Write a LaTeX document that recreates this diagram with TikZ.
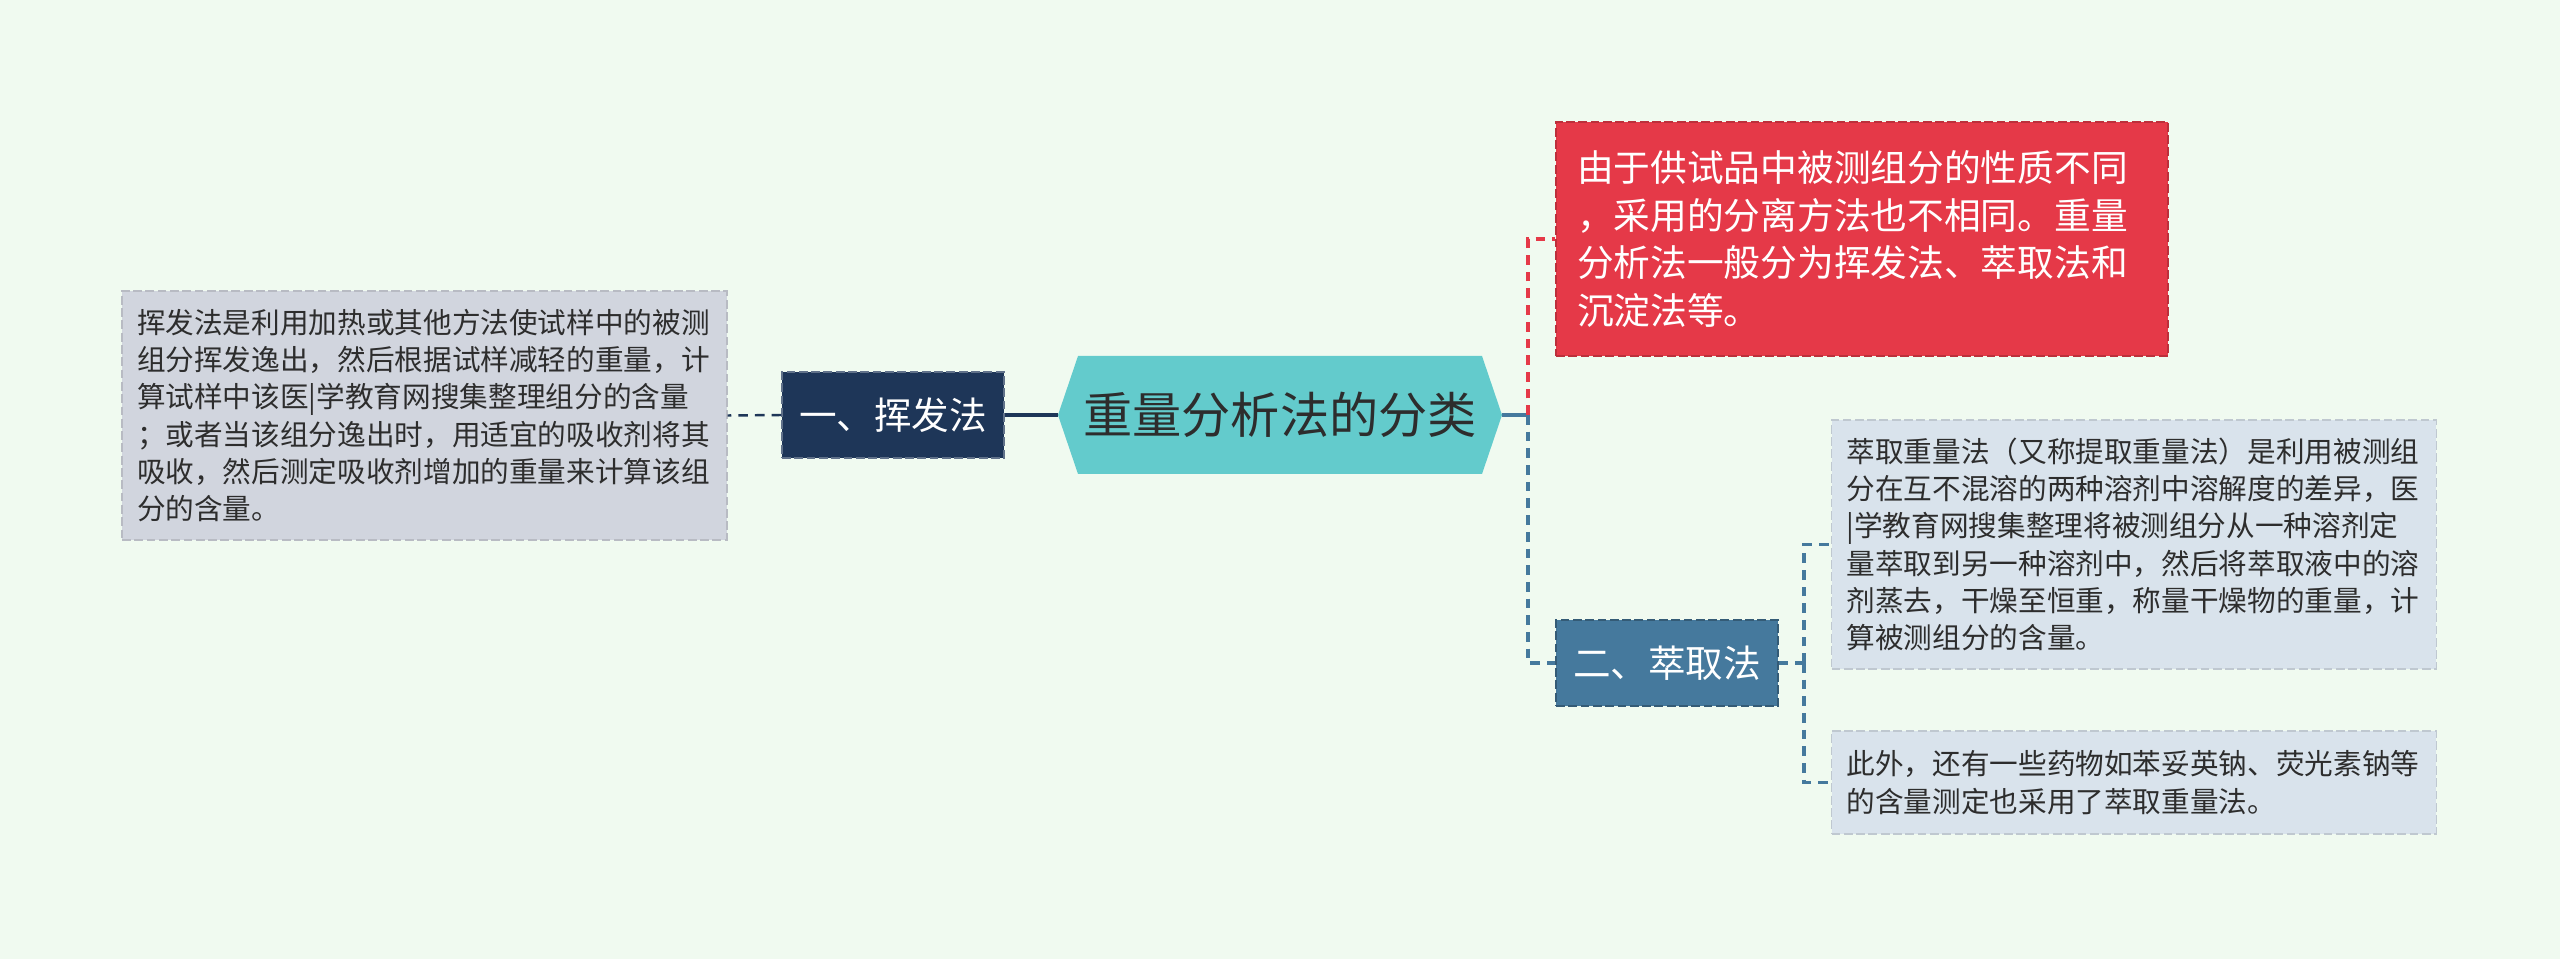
\documentclass[tikz,border=0pt]{standalone}
\usepackage{fontspec}
\setmainfont{Noto Sans CJK SC}
\usepackage{tikz}
\usetikzlibrary{positioning, arrows.meta, calc}
\definecolor{PageBg}{RGB}{240,250,240}
\definecolor{RootTeal}{RGB}{99,203,204}
\definecolor{NavyTopic}{RGB}{30,54,88}
\definecolor{RedTopic}{RGB}{229,57,72}
\definecolor{SteelTopic}{RGB}{69,121,157}
\definecolor{GrayNote}{RGB}{209,213,222}
\definecolor{BlueNote}{RGB}{217,227,236}
\definecolor{InkGray}{RGB}{45,45,45}
\tikzset{
  boxline/.style={dash pattern=on 5pt off 2pt, line width=0.8pt},
  note/.style={boxline, align=left, inner ysep=0pt, inner xsep=0.3cm, text width=11.5cm,
    text=InkGray, font=\fontsize{16.3}{21.2}\selectfont},
  graynote/.style={note, draw=GrayNote!88!black, fill=GrayNote},
  bluenote/.style={note, draw=BlueNote!88!black, fill=BlueNote, minimum width=12.08cm},
  rednote/.style={boxline, draw=RedTopic!82!black, fill=RedTopic, text=white, align=left,
    inner ysep=0pt, inner xsep=0.42cm, text width=11.4cm, minimum height=4.68cm,
    font=\fontsize{20.9}{27.2}\selectfont},
  topic/.style={boxline, minimum width=4.44cm, minimum height=1.72cm, inner sep=0pt,
    text=white, font=\fontsize{21.4}{25}\selectfont},
  navytopic/.style={topic, draw=NavyTopic!70!white, fill=NavyTopic},
  steeltopic/.style={topic, draw=SteelTopic!75!black, fill=SteelTopic},
  rootnode/.style={minimum width=8.88cm, minimum height=2.38cm, inner sep=0pt,
    text=InkGray, font=\fontsize{28}{32}\selectfont},
  rootline/.style={line width=2.6pt, NavyTopic},
  steelline/.style={line width=1.8pt, SteelTopic},
  navydash/.style={line width=1.4pt, NavyTopic, dash pattern=on 5.5pt off 4pt},
  reddash/.style={line width=1.8pt, RedTopic, dash pattern=on 5.5pt off 4pt},
  steeldash/.style={line width=1.8pt, SteelTopic, dash pattern=on 5.5pt off 4pt},
}
\begin{document}
\begin{tikzpicture}[x=0.02cm, y=-0.02cm]
  \fill[PageBg] (0,0) rectangle (2560,959);
  \useasboundingbox (0,0) rectangle (2560,959);
  % central topic
  \fill[RootTeal] (1058,415) -- (1078,356) -- (1482,356) -- (1502,415) -- (1482,474) -- (1078,474) -- cycle;
  \node[rootnode] (root) at (1280,415) {重量分析法的分类};
  % left branch
  \node[navytopic] (volat) at (893,415) {一、挥发法};
  \node[graynote, minimum width=12.1cm, minimum height=4.98cm] (voltxt) at (424.5,415.5)
    {挥发法是利用加热或其他方法使试样中的被测\\组分挥发逸出，然后根据试样减轻的重量，计\\算试样中该医|学教育网搜集整理组分的含量\\；或者当该组分逸出时，用适宜的吸收剂将其\\吸收，然后测定吸收剂增加的重量来计算该组\\分的含量。};
  % right branch
  \node[rednote, minimum width=12.24cm] (intro) at (1862,239)
    {由于供试品中被测组分的性质不同\\，采用的分离方法也不相同。重量\\分析法一般分为挥发法、萃取法和\\沉淀法等。};
  \node[steeltopic] (extr) at (1667,663) {二、萃取法};
  \node[bluenote, minimum height=4.98cm] (extxt1) at (2134,544.5)
    {萃取重量法（又称提取重量法）是利用被测组\\分在互不混溶的两种溶剂中溶解度的差异，医\\|学教育网搜集整理将被测组分从一种溶剂定\\量萃取到另一种溶剂中，然后将萃取液中的溶\\剂蒸去，干燥至恒重，称量干燥物的重量，计\\算被测组分的含量。};
  \node[bluenote, minimum height=2.06cm] (extxt2) at (2134,782.5)
    {此外，还有一些药物如苯妥英钠、荧光素钠等\\的含量测定也采用了萃取重量法。};
  % connectors
  \draw[rootline] (root.west) -- (volat.east);
  \draw[navydash] (volat.west) -- (voltxt.east);
  \coordinate (jr) at (1528,415);
  \draw[steelline] (root.east) -- (jr);
  \draw[reddash] (jr) |- (intro.west);
  \draw[steeldash] (jr) |- (extr.west);
  \coordinate (je) at (1804,663);
  \draw[steeldash] (extr.east) -- (je);
  \draw[steeldash] (je) |- (extxt1.west);
  \draw[steeldash] (je) |- (extxt2.west);
\end{tikzpicture}
\end{document}
